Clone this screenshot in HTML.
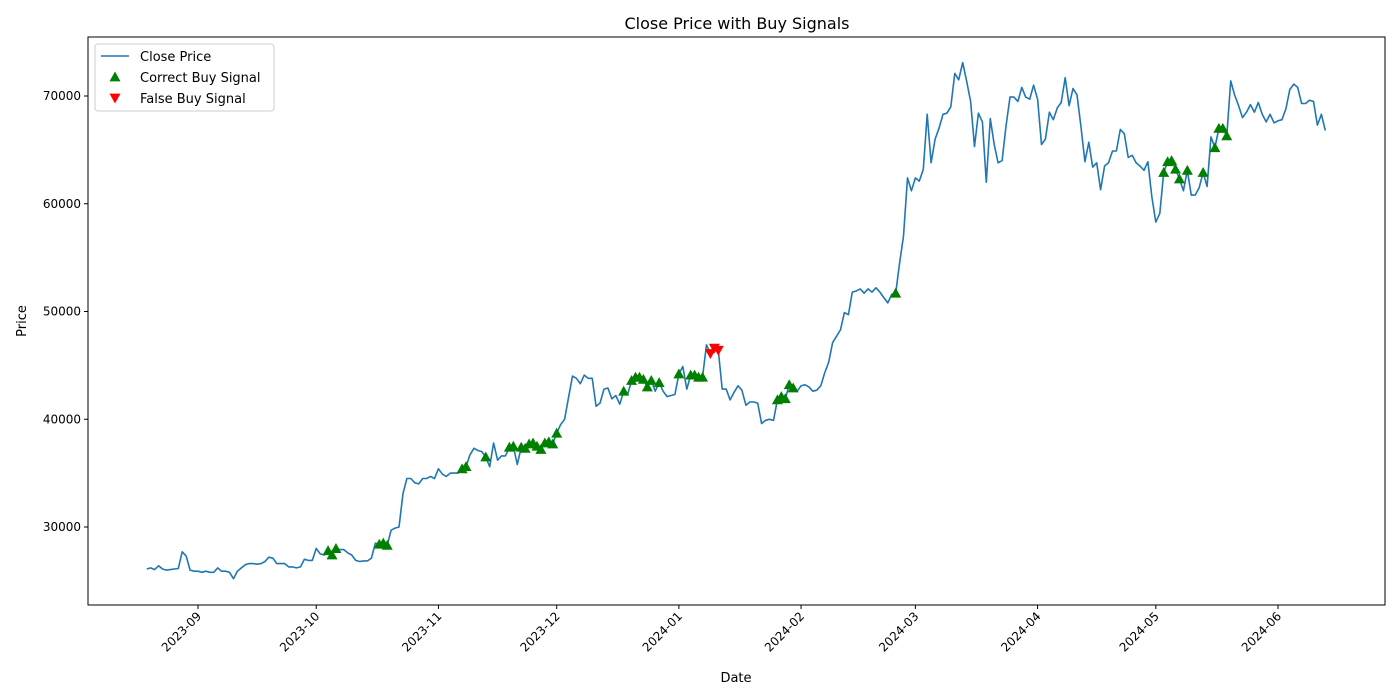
<!DOCTYPE html>
<html><head><meta charset="utf-8"><style>
body{margin:0;background:#fff;}
svg{display:block;font-family:"DejaVu Sans","Liberation Sans",sans-serif;}
</style></head><body>
<svg id="chart" width="1400" height="700"></svg>
<script>
const startDate = "2023-08-19";
const closePrices = [
26100,26200,26050,26400,26100,26000,26050,26100,26150,27700,27300,26000,25900,
25900,25800,25900,25800,25800,26200,25900,25900,25800,25200,25900,26200,26500,26600,26600,26550,26600,26800,27200,27100,26600,26600,26600,26300,26300,26200,26300,27000,26900,26900,
28000,27500,27400,27800,27400,28000,27900,27900,27600,27400,26900,26800,26850,26850,27100,28500,28400,28500,28300,29700,29900,30000,33100,34500,34500,34100,34000,34500,34500,34700,34500,
35400,34900,34700,35000,35000,35000,35400,35600,36700,37300,37100,37000,36500,35600,37800,36200,36600,36600,37400,37500,35800,37400,37300,37700,37800,37500,37200,37800,37900,37700,
38700,39500,40000,42000,44000,43800,43300,44100,43800,43800,41200,41500,42800,42900,41900,42200,41400,42600,42300,43600,43900,43900,43700,43000,43600,42600,43400,42600,42100,42200,42300,
44200,44900,42800,44100,44100,43900,43900,46900,46100,46600,46400,42800,42800,41800,42500,43100,42700,41300,41600,41600,41500,39600,39900,40000,39900,41800,42100,41900,43200,42900,42600,
43100,43200,43000,42600,42700,43100,44300,45300,47100,47700,48300,49900,49700,51800,51900,52100,51700,52100,51800,52200,51800,51300,50800,51600,51700,54500,57000,62400,61200,
62400,62100,63200,68300,63800,66000,67000,68300,68400,69000,72100,71500,73100,71400,69500,65300,68400,67600,62000,67900,65500,63800,64000,67200,69900,69900,69500,70800,69900,69700,71000,
69700,65500,66000,68500,67800,68900,69400,71700,69100,70700,70100,67200,63900,65700,63400,63800,61300,63500,63800,64900,64900,66900,66500,64300,64500,63800,63500,63100,63900,60600,
58300,59100,62900,63900,64000,63200,62300,61200,63100,60800,60800,61500,62900,61600,66200,65200,67000,67000,66300,71400,70100,69100,68000,68500,69200,68500,69400,68300,67600,68300,67500,
67700,67800,68800,70600,71100,70800,69300,69300,69600,69500,67300,68300,66800];
const correctSignals = ["2023-10-04","2023-10-05","2023-10-06","2023-10-17","2023-10-18","2023-10-19","2023-11-07","2023-11-08","2023-11-13","2023-11-19","2023-11-20","2023-11-22","2023-11-23","2023-11-24","2023-11-25","2023-11-26","2023-11-27","2023-11-28","2023-11-29","2023-11-30","2023-12-01","2023-12-18","2023-12-20","2023-12-21","2023-12-22","2023-12-23","2023-12-24","2023-12-25","2023-12-27","2024-01-01","2024-01-04","2024-01-05","2024-01-06","2024-01-07","2024-01-26","2024-01-27","2024-01-28","2024-01-29","2024-01-30","2024-02-25","2024-05-03","2024-05-04","2024-05-05","2024-05-06","2024-05-07","2024-05-09","2024-05-13","2024-05-16","2024-05-17","2024-05-18","2024-05-19"];
const falseSignals = ["2024-01-09","2024-01-10","2024-01-11"];
const xTickLabels = ["2023-09","2023-10","2023-11","2023-12","2024-01","2024-02","2024-03","2024-04","2024-05","2024-06"];
const yTickValues = [30000,40000,50000,60000,70000];

const NS="http://www.w3.org/2000/svg";
const svg=document.getElementById('chart');
const L=88,R=1385,T=37,B=605;
const DAY=86400000;
const t0=Date.UTC(2023,8,1), t1=Date.UTC(2024,5,1);
function dayNum(s){const p=s.split('-');return Date.UTC(+p[0],+p[1]-1,+(p[2]||1));}
function xs(t){return 198+(t-t0)/(t1-t0)*(1278-198);}
function ys(v){return 527-(v-30000)*(527-96)/40000;}
function el(tag,attrs,parent){const e=document.createElementNS(NS,tag);for(const k in attrs)e.setAttribute(k,attrs[k]);(parent||svg).appendChild(e);return e;}
const s0=dayNum(startDate);
function priceOn(d){return closePrices[Math.round((dayNum(d)-s0)/DAY)];}

// frame
const frame=el('rect',{x:L,y:T,width:R-L,height:B-T,fill:'none',stroke:'#000','stroke-width':1});



// x ticks
xTickLabels.forEach(lb=>{
  const x=xs(dayNum(lb));
  const tk=el('line',{x1:x,x2:x,y1:B,y2:B+4,stroke:'#000'});
  
  
  const tx=el('text',{x:x+4,y:B+12,'font-size':12,'text-anchor':'end',transform:`rotate(-45 ${x+4} ${B+12})`});
  tx.textContent=lb;
  
  
});
// y ticks
yTickValues.forEach(v=>{
  const y=ys(v);
  const tk=el('line',{x1:L-4,x2:L,y1:y,y2:y,stroke:'#000'});
  
  
  const tx=el('text',{x:L-7,y:y+4,'font-size':12,'text-anchor':'end'});
  tx.textContent=v;
  
  
});

// line
let d='';
closePrices.forEach((v,i)=>{d+=(i?'L':'M')+xs(s0+i*DAY).toFixed(1)+','+ys(v).toFixed(1);});
const line=el('path',{d:d,fill:'none',stroke:'#1f77b4','stroke-width':1.6,'stroke-linejoin':'round'});



function tri(x,y,up,color){
  const s=5.5;
  const pts=up?`${x},${y-s} ${x-s},${y+s*0.8} ${x+s},${y+s*0.8}`:`${x},${y+s} ${x-s},${y-s*0.8} ${x+s},${y-s*0.8}`;
  return el('polygon',{points:pts,fill:color});
}
correctSignals.forEach(s=>{
  const m=tri(xs(dayNum(s)),ys(priceOn(s)),true,'green');
  
  
});
falseSignals.forEach(s=>{
  const m=tri(xs(dayNum(s)),ys(priceOn(s)),false,'red');
  
  
});

// titles
const title=el('text',{x:737,y:29,'font-size':16,'text-anchor':'middle'});
title.textContent='Close Price with Buy Signals';


const xt=el('text',{x:736,y:682,'font-size':13,'text-anchor':'middle'});
xt.textContent='Date';


const yt=el('text',{x:26,y:321,'font-size':13,'text-anchor':'middle',transform:'rotate(-90 26 321)'});
yt.textContent='Price';



// legend
const lg=el('g',{});


el('rect',{x:95,y:44,width:179,height:67,rx:3,fill:'#fff',stroke:'#ccc'},lg);
el('line',{x1:101,x2:129,y1:56,y2:56,stroke:'#1f77b4','stroke-width':1.6},lg);
const e2=tri(115,77,true,'green');lg.appendChild(e2);
const e3=tri(115,98,false,'red');lg.appendChild(e3);
[['Close Price',61],['Correct Buy Signal',82],['False Buy Signal',103]].forEach(a=>{
  const t=el('text',{x:140,y:a[1],'font-size':13},lg);
  t.textContent=a[0];
  
  
});
</script>
</body></html>
